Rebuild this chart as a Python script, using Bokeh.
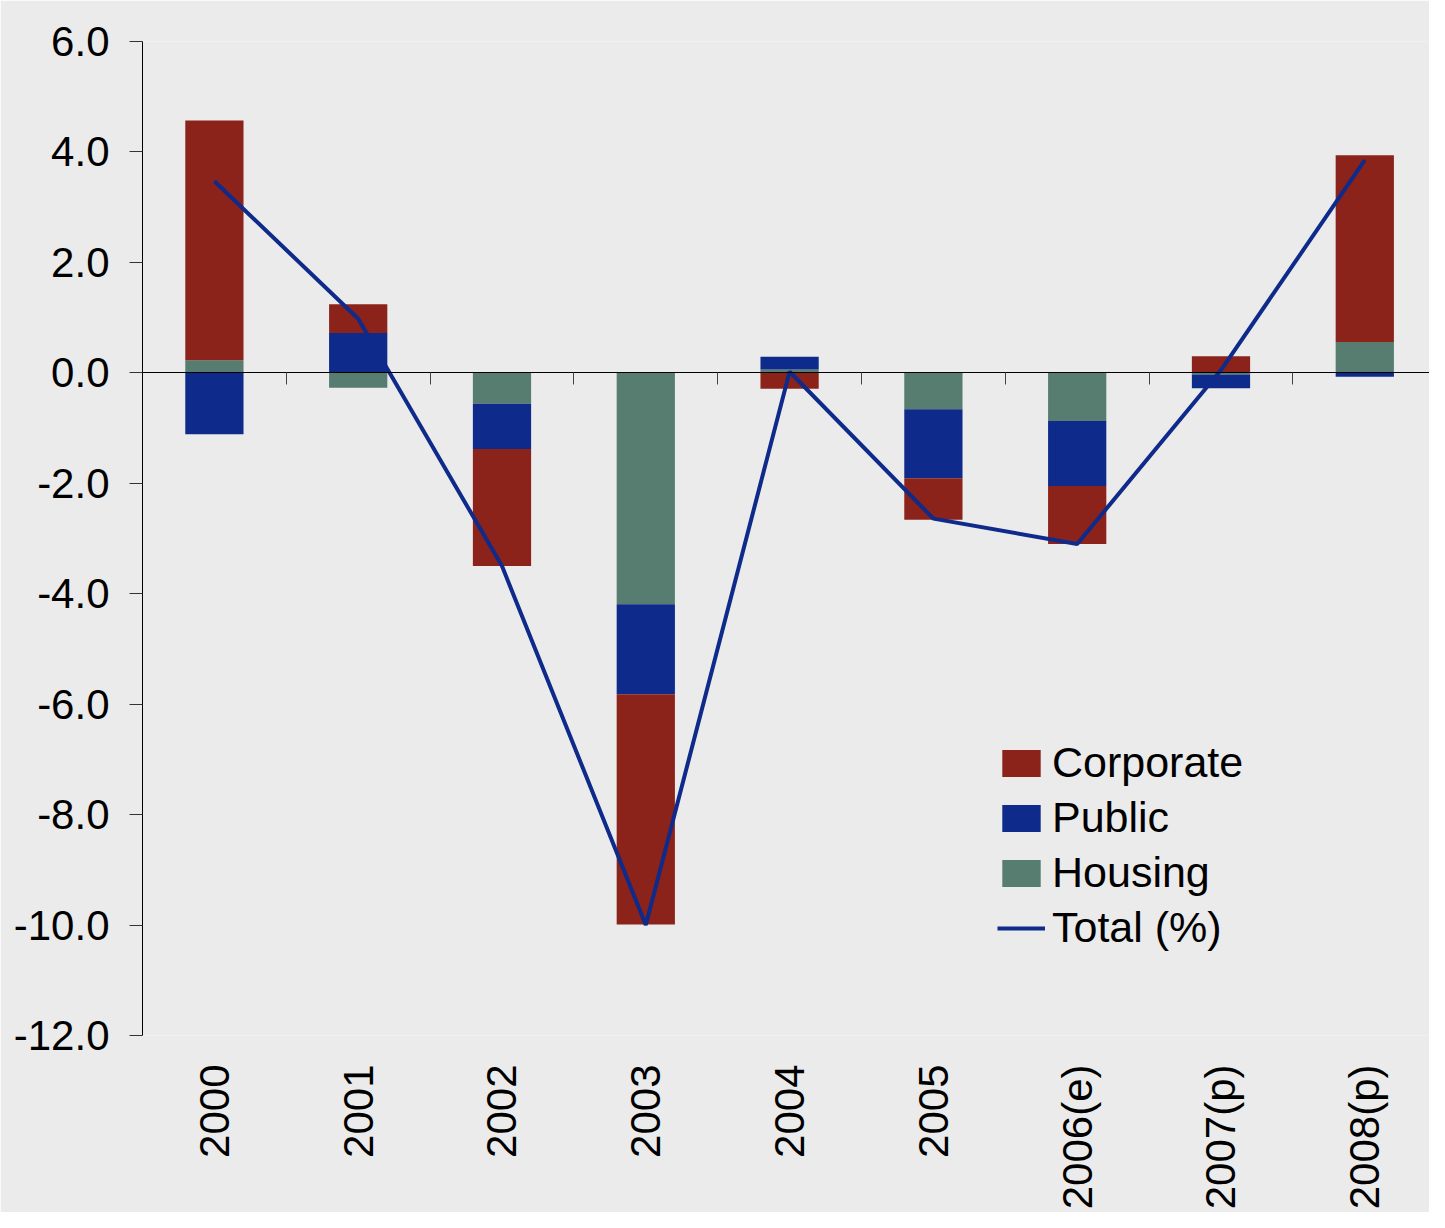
import numpy as np
from bokeh.plotting import figure
from bokeh.models import (Range1d, LinearAxis, FixedTicker, PrintfTickFormatter,
                          Legend, LegendItem)
from bokeh.embed import file_html
from bokeh.resources import INLINE

# ---- data ----
years = ["2000", "2001", "2002", "2003", "2004", "2005", "2006(e)", "2007(p)", "2008(p)"]
corporate = [4.34, 0.52, -2.12, -4.17, -0.29, -0.75, -1.05, 0.30, 3.38]
public = [-1.11, 0.72, -0.82, -1.63, 0.23, -1.25, -1.18, -0.25, -0.07]
housing = [0.23, -0.27, -0.56, -4.19, 0.06, -0.66, -0.87, -0.03, 0.56]
total = [3.47, 0.98, -3.50, -10.00, 0.02, -2.64, -3.10, 0.05, 3.85]
y_ticks = [-12, -10, -8, -6, -4, -2, 0, 2, 4, 6]

# ---- styles ----
FONT = "Liberation Sans"
BG = "#EBEBEB"
C_CORP = "#8B231B"
C_PUB = "#0E2A8A"
C_HOUS = "#567D6F"
C_LINE = "#0E2A8A"

n = len(years)
x = np.arange(n)

p = figure(width=1429, height=1212, output_backend="svg", toolbar_location=None,
           x_range=Range1d(-0.5, 8.45), y_range=Range1d(-12, 6),
           x_axis_location="below", y_axis_location="left")
p.background_fill_color = BG
p.border_fill_color = BG
p.outline_line_color = None
p.xgrid.visible = False
p.ygrid.visible = False
p.min_border_left = 142
p.min_border_top = 41
p.min_border_right = 0
p.min_border_bottom = 0

# stacked bars: order Housing, Public, Corporate outward from zero
pos = np.zeros(n)
neg = np.zeros(n)
renderers = {}
for name, vals, color in [("Housing", housing, C_HOUS),
                          ("Public", public, C_PUB),
                          ("Corporate", corporate, C_CORP)]:
    v = np.array(vals, dtype=float)
    bottom = np.where(v >= 0, pos, neg)
    top = bottom + v
    pos = np.where(v >= 0, top, pos)
    neg = np.where(v < 0, top, neg)
    renderers[name] = p.vbar(x=x, width=0.405, bottom=bottom, top=top,
                             fill_color=color, line_color=None)

line_r = p.line(x=x, y=total, line_color=C_LINE, line_width=4)

# y axis
ya = p.yaxis[0]
ya.ticker = FixedTicker(ticks=y_ticks)
ya.formatter = PrintfTickFormatter(format="%.1f")
ya.major_tick_in = 0
ya.major_tick_out = 13
ya.minor_tick_line_color = None
ya.axis_line_color = "black"
ya.major_tick_line_color = "#333333"
ya.major_label_text_font = FONT
ya.major_label_text_font_size = "42px"
ya.major_label_text_color = "black"
ya.major_label_standoff = 20

# category label axis at the bottom
xa = p.xaxis[0]
xa.ticker = FixedTicker(ticks=list(range(n)))
xa.major_label_overrides = {i: years[i] for i in range(n)}
xa.major_label_orientation = np.pi / 2
xa.axis_line_color = None
xa.major_tick_line_color = None
xa.minor_tick_line_color = None
xa.major_label_text_font = FONT
xa.major_label_text_font_size = "42px"
xa.major_label_text_color = "black"
xa.major_label_standoff = 23

# zero line with category-boundary ticks
za = LinearAxis(fixed_location=0)
za.ticker = FixedTicker(ticks=[i - 0.5 for i in range(n + 1)])
za.major_tick_in = 0
za.major_tick_out = 12
za.minor_tick_line_color = None
za.axis_line_color = "black"
za.major_tick_line_color = "#444444"
za.major_label_text_color = None
za.major_label_text_font_size = "1px"
p.add_layout(za, "below")

legend = Legend(items=[
    LegendItem(label="Corporate", renderers=[renderers["Corporate"]]),
    LegendItem(label="Public", renderers=[renderers["Public"]]),
    LegendItem(label="Housing", renderers=[renderers["Housing"]]),
    LegendItem(label="Total (%)", renderers=[line_r]),
], location=(855, 83))
legend.glyph_width = 48
legend.glyph_height = 34
legend.label_standoff = 7
legend.spacing = 6
legend.padding = 0
legend.margin = 0
legend.border_line_color = None
legend.background_fill_alpha = 0
legend.label_text_font = FONT
legend.label_text_font_size = "43px"
legend.label_text_color = "black"
p.add_layout(legend)

open("out.html", "w").write(file_html(p, INLINE))
